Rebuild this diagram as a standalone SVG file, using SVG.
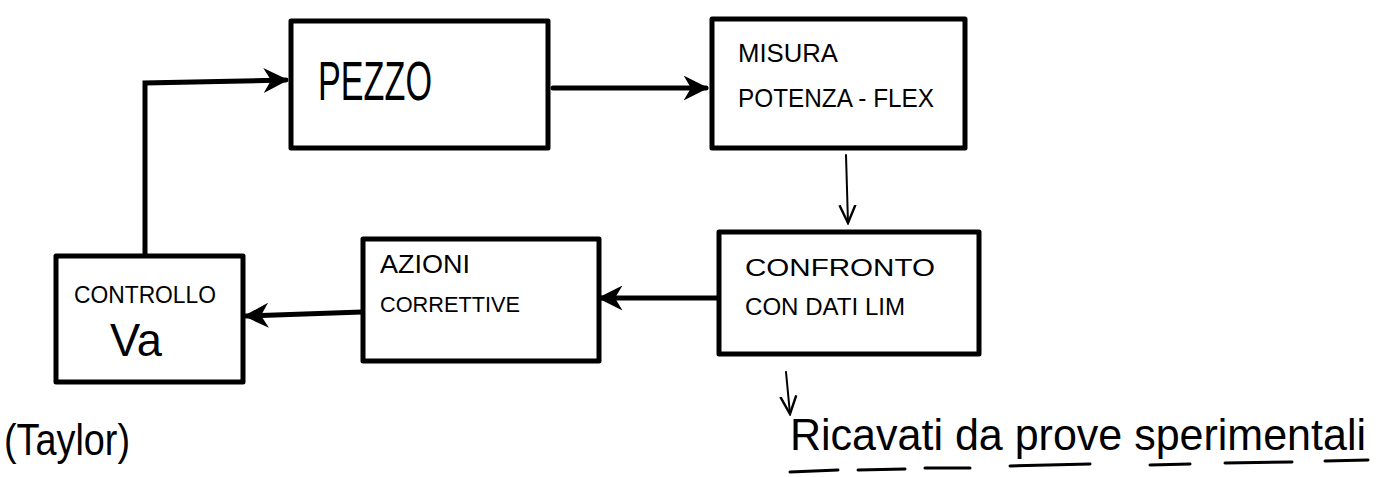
<svg xmlns="http://www.w3.org/2000/svg" width="1396" height="477" viewBox="0 0 1396 477">
<defs>
<style>
.box{fill:#fff;stroke:#000;stroke-width:5;stroke-linejoin:round}
.t{font-family:"Liberation Sans",Arial,sans-serif;fill:#000}
.c{stroke:#000;fill:none;stroke-linecap:round}
.thick{stroke-width:5}
.thin{stroke-width:2}
</style>
<marker id="ah" viewBox="0 0 10 10" refX="9" refY="5" markerWidth="5" markerHeight="5" orient="auto" markerUnits="strokeWidth">
<path d="M0,0 L10,5 L0,10 L3,5 z" fill="#000"/>
</marker>
<marker id="ahs" viewBox="0 0 10 10" refX="9" refY="5" markerWidth="10" markerHeight="10" orient="auto" markerUnits="strokeWidth">
<path d="M0,1 L9,5 L0,9" fill="none" stroke="#000" stroke-width="1.2"/>
</marker>
</defs>
<rect width="1396" height="477" fill="#fff"/>
<g id="connectors">
<path class="c thick" d="M145,255 L145,83 L286,80" marker-end="url(#ah)"/>
<path class="c thick" d="M553,88 L706,88" marker-end="url(#ah)"/>
<path class="c thin" d="M846,155 L848,223" marker-end="url(#ahs)"/>
<path class="c thick" d="M718,298 L600,298" marker-end="url(#ah)"/>
<path class="c thick" d="M362,312 L246,316" marker-end="url(#ah)"/>
<path class="c thin" d="M786,372 L790,414" marker-end="url(#ahs)"/>
</g>
<g id="pezzo">
<rect class="box" x="291" y="21" width="257" height="127"/>
<text class="t" x="318" y="100" font-size="56" textLength="114" lengthAdjust="spacingAndGlyphs">PEZZO</text>
</g>
<g id="misura">
<rect class="box" x="712" y="19" width="253" height="129"/>
<text class="t" x="738" y="62" font-size="26" textLength="100" lengthAdjust="spacingAndGlyphs">MISURA</text>
<text class="t" x="738" y="107" font-size="26" textLength="196" lengthAdjust="spacingAndGlyphs">POTENZA - FLEX</text>
</g>
<g id="confronto">
<rect class="box" x="719" y="232" width="260" height="122"/>
<text class="t" x="745" y="276" font-size="24" textLength="190" lengthAdjust="spacingAndGlyphs">CONFRONTO</text>
<text class="t" x="745" y="315" font-size="24" textLength="160" lengthAdjust="spacingAndGlyphs">CON DATI LIM</text>
</g>
<g id="azioni">
<rect class="box" x="363" y="239" width="236" height="122"/>
<text class="t" x="380" y="273" font-size="26" textLength="90" lengthAdjust="spacingAndGlyphs">AZIONI</text>
<text class="t" x="380" y="312" font-size="22" textLength="140" lengthAdjust="spacingAndGlyphs">CORRETTIVE</text>
</g>
<g id="controllo">
<rect class="box" x="56" y="256" width="187" height="126"/>
<text class="t" x="74" y="303" font-size="24" textLength="142" lengthAdjust="spacingAndGlyphs">CONTROLLO</text>
<text class="t" x="110" y="356" font-size="46" textLength="52" lengthAdjust="spacingAndGlyphs">Va</text>
</g>
<g id="notes">
<text class="t" x="4" y="455" font-size="44" textLength="126" lengthAdjust="spacingAndGlyphs">(Taylor)</text>
<text class="t" x="790" y="450" font-size="44" textLength="576" lengthAdjust="spacingAndGlyphs">Ricavati da prove sperimentali</text>
<path class="c" stroke-width="3" d="M790,472 L838,470 M858,470 L905,469 M925,468 L970,468 M1010,466 L1090,464 M1150,465 L1190,464 M1225,463 L1292,462 M1325,461 L1368,460"/>
</g>
</svg>
